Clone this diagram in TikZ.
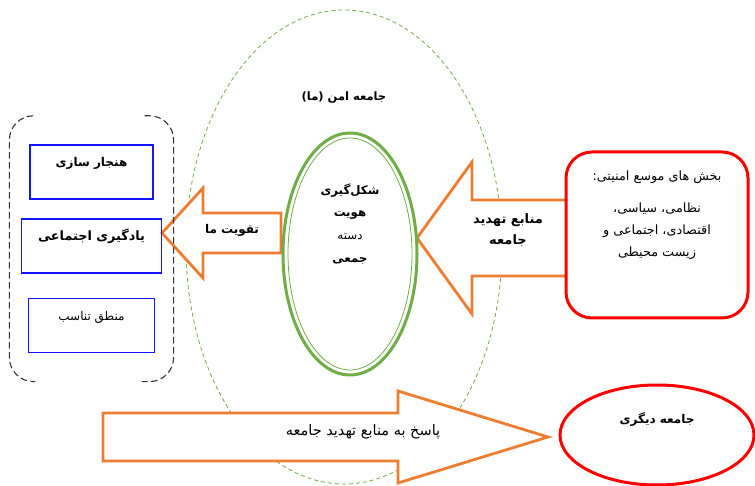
\documentclass[tikz,border=0pt]{standalone}
\usepackage{fontspec}
\newfontfamily\fa[Script=Arabic]{DejaVu Sans}
\TeXXeTstate=1
\usetikzlibrary{positioning,fit,shapes.geometric}

\definecolor{boostorange}{HTML}{ED7D31}
\definecolor{idgreen}{HTML}{70AD47}
\definecolor{factorblue}{HTML}{1414FF}
\definecolor{sectorred}{HTML}{FF0000}
\newcommand{\fl}[1]{\beginR #1\endR}

\begin{document}
\begin{tikzpicture}
[x=1pt, y=-1pt, font=\fa\fontsize{12}{14}\selectfont,
% STYLES
every node/.style={inner sep=2pt, align=center},
% The factor style is used for the boxes inside the left group
factor/.style={rectangle, draw=factorblue, line width=1.8pt, inner xsep=0pt, inner ysep=0pt, text height=22pt, text depth=32pt, font=\fa\bfseries\fontsize{12}{14}\selectfont},
bracket/.style={draw=black!80, line width=1.1pt, dash pattern=on 6.5pt off 3.5pt, rounded corners=24pt},
% Define styles for the ellipses and the block arrows
society/.style={ellipse, draw=idgreen, line width=0.8pt, dash pattern=on 4pt off 3pt},
identity/.style={ellipse, draw=idgreen, line width=3pt},
blockarrow/.style={draw=boostorange, fill=white, line width=2.8pt},
sector/.style={rectangle, draw=sectorred, fill=white, line width=3pt, rounded corners=26pt},
other/.style={ellipse, draw=sectorred, fill=white, line width=3pt},
bold/.style={font=\fa\bfseries\fontsize{#1}{21}\selectfont},
bold/.default=12,
plain/.style={font=\fa\fontsize{#1}{22}\selectfont},
plain/.default=12.5]

\useasboundingbox (0,0) rectangle (755,486);

% Society (us)
\node [society, minimum width=316pt, minimum height=474pt] (us) at (344,247) {};
\node [bold=11.5, below=80pt of us.north] (us-label) {\fl{جامعه امن (ما)}};

% Block arrows
\coordinate (boost-tip) at (162,233);
\coordinate (threat-tip) at (417,238);
\coordinate (response-tip) at (548,437);

\draw [blockarrow] (boost-tip) -- ++(41,-45) -- ++(0,25) -- ++(78,0) -- ++(0,40) -- ++(-78,0) -- ++(0,25) -- cycle;
\draw [blockarrow] (threat-tip) -- ++(55,-76) -- ++(0,38) -- ++(100,0) -- ++(0,76) -- ++(-100,0) -- ++(0,38) -- cycle;
\draw [blockarrow] (response-tip) -- ++(-150,-46) -- ++(0,22) -- ++(-295,0) -- ++(0,48) -- ++(295,0) -- ++(0,22) -- cycle;

\node [bold] (boost) at (232,230) {\fl{تقویت ما}};
\node [bold=13] (threat) at (508,230) {\fl{منابع تهدید}\\\fl{جامعه}};
\node [plain=14.5] (response) at (363,432) {\fl{پاسخ به منابع تهدید جامعه}};

% Collective identity
\node [identity, minimum width=134pt, minimum height=242pt] (identity) at (350,254) {};
\draw [idgreen, line width=0.8pt] (identity.center) ellipse (62pt and 116pt);
\node [font=\fa\bfseries\fontsize{11.8}{22.7}\selectfont] (identity-text) at ([yshift=30pt]identity.center)
  {\fl{شکل‌گیری}\\\fl{هویت}\\\fl{\mdseries دسته}\\\fl{جمعی}};

% Left group
\node [factor, minimum width=123pt, anchor=north] (norm) at (91.5,144) {\fl{هنجار سازی}};
\node [factor, minimum width=140pt, below=18pt of norm, font=\fa\bfseries\fontsize{12.8}{14}\selectfont] (learn) {\fl{یادگیری اجتماعی}};
\node [factor, minimum width=126pt, below=24pt of learn, font=\fa\fontsize{12}{14}\selectfont] (logic) {\fl{منطق تناسب}};
\node [fit=(norm)(learn)(logic), inner xsep=11pt, inner ysep=28pt] (group) {};

\draw [bracket] ([xshift=24pt]group.north west) -- (group.north west) -- (group.south west) -- ([xshift=26pt]group.south west);
\draw [bracket] ([xshift=-29pt]group.north east) -- (group.north east) -- (group.south east) -- ([xshift=-32pt]group.south east);

% Security sectors
\node [sector, minimum width=182pt, minimum height=166pt] (sectors) at (657,235) {};
\node [plain=12.8] (sectors-text) at ([yshift=20pt]sectors.center)
  {\fl{بخش های موسع امنیتی:}\\[10pt]\fl{نظامی، سیاسی،}\\\fl{اقتصادی، اجتماعی و}\\\fl{زیست محیطی}};

% Other society
\node [other, minimum width=194pt, minimum height=100pt] (other) at (657,435) {};
\node [bold] (other-text) at ([yshift=15pt]other.center) {\fl{جامعه دیگری}};

\end{tikzpicture}
\end{document}
